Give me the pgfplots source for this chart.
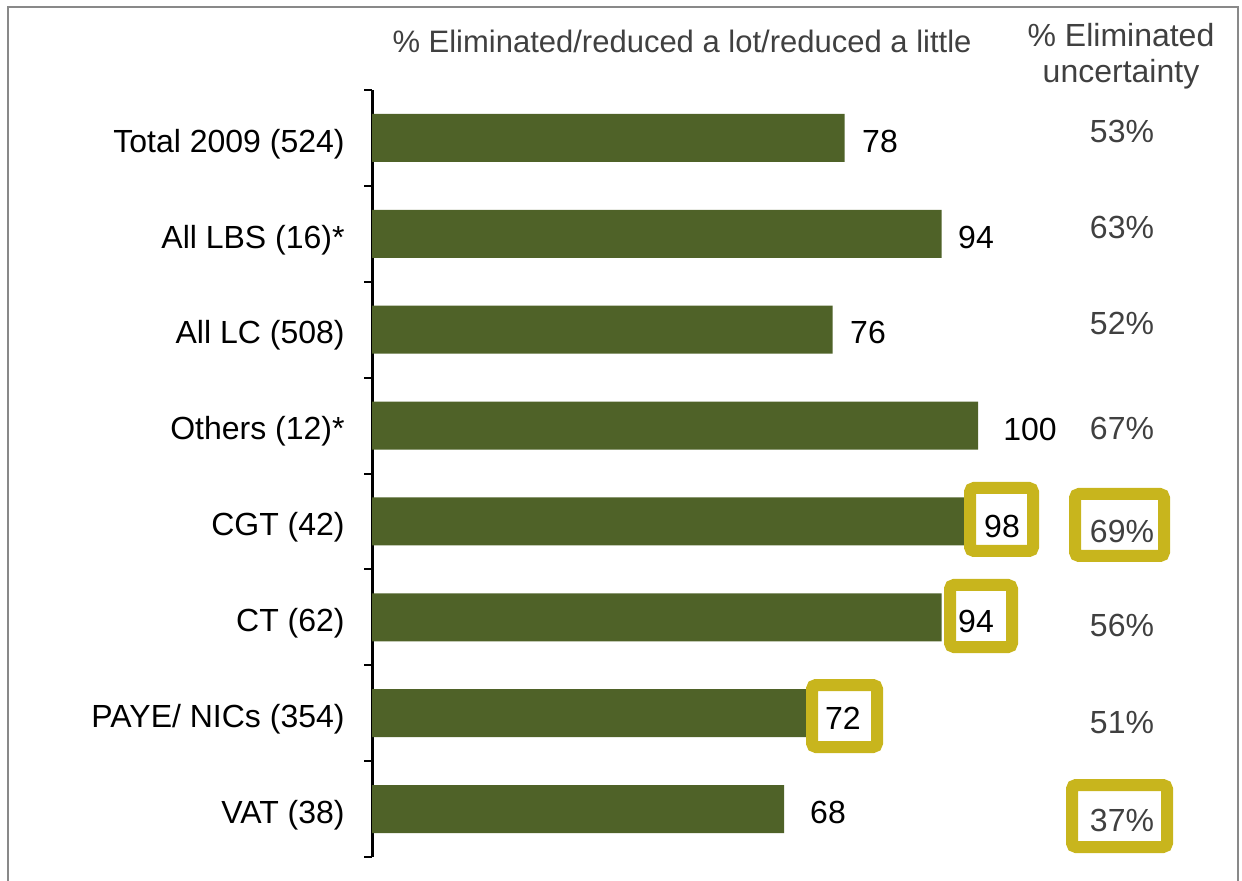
\documentclass[border=0pt]{standalone}
\usepackage{pgfplots}
\pgfplotsset{compat=1.18}
\usepackage{pgfplotstable}
\usepackage{fontspec}
\setmainfont{Liberation Sans}
\definecolor{barolive}{HTML}{4F6228}
\definecolor{boxgold}{HTML}{C8B51D}
\definecolor{txtgray}{HTML}{404040}
\definecolor{framegray}{HTML}{898989}
\newcommand{\chartfont}{\fontsize{15.5}{18}\selectfont}
\newcommand{\catfont}{\fontsize{16}{19}\selectfont}

% row, bar value, label position (x, y)
\pgfplotstableread{
row val lx ly
0 78 83.83 0.04
1 94 99.67 1.04
2 76 81.85 2.03
3 100 108.58 3.04
4 98 103.96 4.05
5 94 99.67 5.04
6 72 77.72 6.05
7 68 75.25 7.04
}\barsdata

% row, % eliminated uncertainty, label position (x, y)
\pgfplotstableread{
row unc ux uy
0 53 123.76 -0.07
1 63 123.76 0.93
2 52 123.76 1.93
3 67 123.76 3.03
4 69 123.76 4.10
5 56 123.76 5.09
6 51 123.76 6.10
7 37 123.76 7.12
}\uncdata

\begin{document}
\begin{tikzpicture}
\begin{axis}[
  at={(186pt,-428.5pt)}, anchor=south west,
  scale only axis, width=303pt, height=383.5pt,
  xmin=0, xmax=100, ymin=-0.5, ymax=7.5, y dir=reverse,
  axis x line=none, axis y line*=left,
  ytick={0,...,7},
  yticklabels={Total 2009 (524), All LBS (16)*, All LC (508), Others (12)*, CGT (42), CT (62), PAYE/ NICs (354), VAT (38)},
  major tick length=0pt,
  minor ytick={-0.5,0.5,...,7.5},
  minor tick length=4pt,
  tick align=outside,
  y axis line style={line width=1.5pt, black, -},
  every minor tick/.style={line width=1pt, black},
  yticklabel style={inner sep=0pt, xshift=-13.5pt, yshift=-3pt, font=\catfont, text=black},
  clip=false,
]
\addplot[xbar, bar width=24pt, fill=barolive, draw=none] table[x=val, y=row]{\barsdata};
\addplot[draw=none, mark=none, nodes near coords, point meta=explicit symbolic,
  every node near coord/.append style={anchor=center, font=\catfont, text=black, inner sep=0pt}]
  table[x=lx, y=ly, meta=val]{\barsdata};
\addplot[draw=none, mark=none, nodes near coords={\pgfplotspointmeta\%}, point meta=explicit symbolic,
  every node near coord/.append style={anchor=center, font=\catfont, text=txtgray, inner sep=0pt}]
  table[x=ux, y=uy, meta=unc]{\uncdata};
\end{axis}
\begin{scope}[x=0.5pt, y=-0.5pt]
  \draw[framegray, line width=1pt] (8,7) rectangle (1238,900);
  \node[anchor=base, text=txtgray, font=\chartfont, inner sep=0pt] at (682,53) {\% Eliminated/reduced a lot/reduced a little};
  \node[anchor=base, text=txtgray, font=\catfont, inner sep=0pt] at (1121,47) {\% Eliminated};
  \node[anchor=base, text=txtgray, font=\catfont, inner sep=0pt] at (1121,83) {uncertainty};
  \draw[boxgold, line width=6pt, rounded corners=2pt] (970,488) rectangle (1033,551);
  \draw[boxgold, line width=6pt, rounded corners=2pt] (950,585) rectangle (1012,647);
  \draw[boxgold, line width=6pt, rounded corners=2pt] (812,685) rectangle (877,747);
  \draw[boxgold, line width=6pt, rounded corners=2pt] (1075,494) rectangle (1164,556);
  \draw[boxgold, line width=6pt, rounded corners=2pt] (1072,785) rectangle (1167,847);
\end{scope}
\pgfresetboundingbox
\useasboundingbox (0,0) rectangle (621pt,-440.5pt);
\end{tikzpicture}
\end{document}
